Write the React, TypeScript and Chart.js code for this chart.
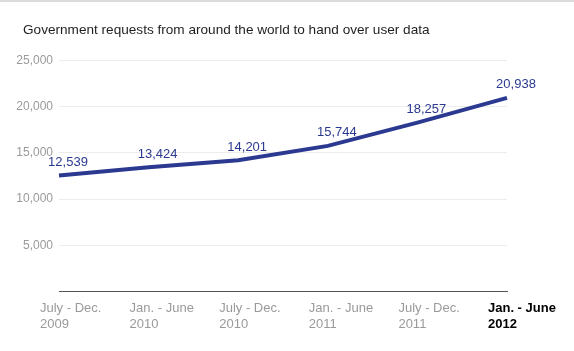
import React, { useEffect, useRef } from "react";
import { Chart, registerables } from "chart.js";

Chart.register(...registerables);

const TITLE = "Government requests from around the world to hand over user data";
const periods: string[][] = [
  ["July - Dec.", "2009"],
  ["Jan. - June", "2010"],
  ["July - Dec.", "2010"],
  ["Jan. - June", "2011"],
  ["July - Dec.", "2011"],
  ["Jan. - June", "2012"],
];
const requests: number[] = [12539, 13424, 14201, 15744, 18257, 20938];
const yTicks = { min: 0, max: 25000, step: 5000 };

const FONT = "'Liberation Sans', Arial, sans-serif";
const LINE_COLOR = "#2b3990";

const valueLabels = {
  id: "valueLabels",
  afterLayout(chart: any) {
    // let y tick labels extend left of the title indent without clipping
    if (chart.scales.y) chart.scales.y.left = 0;
  },
  afterDatasetsDraw(chart: any) {
    const ctx = chart.ctx;
    const meta = chart.getDatasetMeta(0);
    ctx.save();
    ctx.font = `13px ${FONT}`;
    ctx.fillStyle = LINE_COLOR;
    ctx.textAlign = "center";
    ctx.textBaseline = "middle";
    meta.data.forEach((pt: any, i: number) => {
      const v = chart.data.datasets[0].data[i] as number;
      ctx.fillText(v.toLocaleString("en-US"), pt.x + 9, pt.y - 13);
    });
    ctx.restore();
  },
};

export default function App() {
  const ref = useRef<HTMLCanvasElement | null>(null);
  useEffect(() => {
    if (!ref.current) return;
    const last = periods.length - 1;
    const chart = new Chart(ref.current, {
      type: "line",
      data: {
        labels: periods,
        datasets: [
          {
            data: requests,
            borderColor: LINE_COLOR,
            backgroundColor: LINE_COLOR,
            borderWidth: 4,
            pointRadius: 0,
            tension: 0,
            fill: false,
          },
        ],
      },
      options: {
        animation: false,
        responsive: false,
        layout: { padding: { left: 23, right: 67, top: 0, bottom: 9 } },
        plugins: {
          legend: { display: false },
          tooltip: { enabled: false },
          title: {
            display: true,
            text: TITLE,
            align: "start",
            color: "#1e1e1e",
            font: { family: FONT, size: 13.6, weight: "normal", lineHeight: 1.2 },
            padding: { top: 20, bottom: 22 },
          },
        },
        scales: {
          x: {
            offset: false,
            grid: { display: false, drawTicks: false },
            border: { display: true, color: "#555555", width: 1 },
            ticks: {
              align: "start",
              labelOffset: -19,
              padding: 9,
              maxRotation: 0,
              autoSkip: false,
              color: (c: any) => (c.index === last ? "#000000" : "#9a9a9a"),
              font: (c: any) => ({
                family: FONT,
                size: 13,
                weight: c.index === last ? "bold" : "normal",
                lineHeight: 1.25,
              }),
            },
            afterFit: (s: any) => {
              s.paddingRight = 0;
              s.paddingLeft = 0;
            },
          },
          y: {
            min: yTicks.min,
            max: yTicks.max,
            border: { display: false },
            grid: {
              drawTicks: false,
              color: (c: any) => (c.tick && c.tick.value === 0 ? "rgba(0,0,0,0)" : "#ececec"),
              lineWidth: 1,
            },
            ticks: {
              stepSize: yTicks.step,
              padding: 6,
              color: "#9a9a9a",
              font: { family: FONT, size: 12 },
              callback: (v: any) => (Number(v) === 0 ? "" : Number(v).toLocaleString("en-US")),
            },
            afterFit: (s: any) => {
              s.width = 36;
            },
          },
        },
      },
      plugins: [valueLabels],
    });
    return () => chart.destroy();
  }, []);

  return (
    <div
      style={{
        position: "fixed",
        left: 0,
        top: 0,
        width: 574,
        height: 351,
        background: "#ffffff",
        borderTop: "2px solid #dcdcdc",
        boxSizing: "border-box",
      }}
    >
      <canvas ref={ref} width={574} height={349} style={{ display: "block" }} />
    </div>
  );
}
